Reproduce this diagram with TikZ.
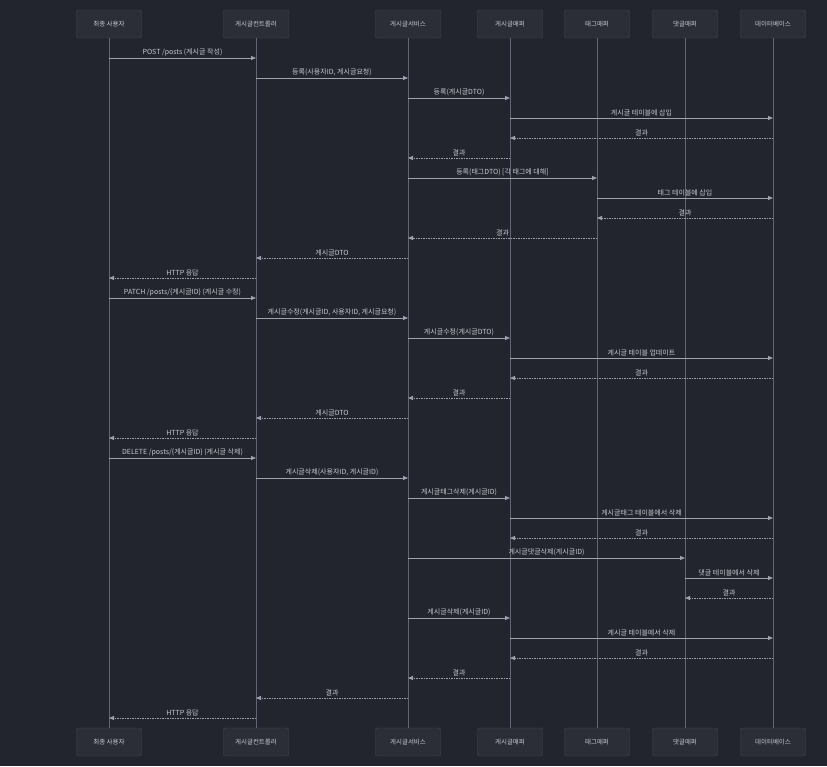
\documentclass[tikz,border=0pt]{standalone}
\usepackage{fontspec}
\setmainfont{Noto Sans CJK KR}
\usepackage{xcolor}
\usetikzlibrary{arrows.meta}

\definecolor{bgdark}{HTML}{23252E}
\definecolor{boxfill}{HTML}{2B2E37}
\definecolor{boxline}{HTML}{444853}
\definecolor{lifeclr}{HTML}{626775}
\definecolor{msgclr}{HTML}{9EA3AE}
\definecolor{txtclr}{HTML}{C6C8CE}

\tikzset{
  actor/.style={draw=boxline, fill=boxfill, rounded corners=2pt, minimum width=65pt,
    minimum height=28pt, text=txtclr, font=\fontsize{6.5}{7}\selectfont},
  lifeline/.style={draw=lifeclr, line width=0.8pt},
  call/.style={draw=msgclr, line width=0.8pt, -{Triangle[length=5pt,width=4pt]}},
  ret/.style={draw=msgclr, line width=0.8pt, dash pattern=on 1.5pt off 1pt,
    -{Triangle[length=5pt,width=4pt]}},
  msglbl/.style={text=txtclr, font=\fontsize{7}{8}\selectfont, inner sep=1pt, above=0.5pt}
}

\begin{document}
\begin{tikzpicture}[x=1pt, y=-1pt]
  \fill[bgdark] (0,0) rectangle (827,766);
  \useasboundingbox (0,0) rectangle (827,766);

  % participants, top and bottom
  \foreach \nm/\x/\lbl in {%
    user/109/{최종 사용자},%
    ctrl/256/{게시글컨트롤러},%
    svc/408/{게시글서비스},%
    pmap/510/{게시글매퍼},%
    tmap/597/{태그매퍼},%
    cmap/685/{댓글매퍼},%
    db/773/{데이터베이스}%
  }{
    \node[actor] (\nm) at (\x,24) {\lbl};
    \node[actor] (\nm-bot) at (\x,742) {\lbl};
    \draw[lifeline] (\nm) -- (\nm-bot);
  }

  % messages
  \foreach \a/\b/\st/\lbl [count=\i] in {%
    user/ctrl/call/{POST /posts (게시글 작성)},%
    ctrl/svc/call/{등록(사용자ID, 게시글요청)},%
    svc/pmap/call/{등록(게시글DTO)},%
    pmap/db/call/{게시글 테이블에 삽입},%
    db/pmap/ret/{결과},%
    pmap/svc/ret/{결과},%
    svc/tmap/call/{등록(태그DTO) [각 태그에 대해]},%
    tmap/db/call/{태그 테이블에 삽입},%
    db/tmap/ret/{결과},%
    tmap/svc/ret/{결과},%
    svc/ctrl/ret/{게시글DTO},%
    ctrl/user/ret/{HTTP 응답},%
    user/ctrl/call/{PATCH /posts/\{게시글ID\} (게시글 수정)},%
    ctrl/svc/call/{게시글수정(게시글ID, 사용자ID, 게시글요청)},%
    svc/pmap/call/{게시글수정(게시글DTO)},%
    pmap/db/call/{게시글 테이블 업데이트},%
    db/pmap/ret/{결과},%
    pmap/svc/ret/{결과},%
    svc/ctrl/ret/{게시글DTO},%
    ctrl/user/ret/{HTTP 응답},%
    user/ctrl/call/{DELETE /posts/\{게시글ID\} (게시글 삭제)},%
    ctrl/svc/call/{게시글삭제(사용자ID, 게시글ID)},%
    svc/pmap/call/{게시글태그삭제(게시글ID)},%
    pmap/db/call/{게시글태그 테이블에서 삭제},%
    db/pmap/ret/{결과},%
    svc/cmap/call/{게시글댓글삭제(게시글ID)},%
    cmap/db/call/{댓글 테이블에서 삭제},%
    db/cmap/ret/{결과},%
    svc/pmap/call/{게시글삭제(게시글ID)},%
    pmap/db/call/{게시글 테이블에서 삭제},%
    db/pmap/ret/{결과},%
    pmap/svc/ret/{결과},%
    svc/ctrl/ret/{결과},%
    ctrl/user/ret/{HTTP 응답}%
  }{
    \pgfmathsetmacro{\y}{38+20*\i}
    \draw[\st] (\a |- 0,\y) -- (\b |- 0,\y) node[msglbl, midway] {\lbl};
  }
\end{tikzpicture}
\end{document}
